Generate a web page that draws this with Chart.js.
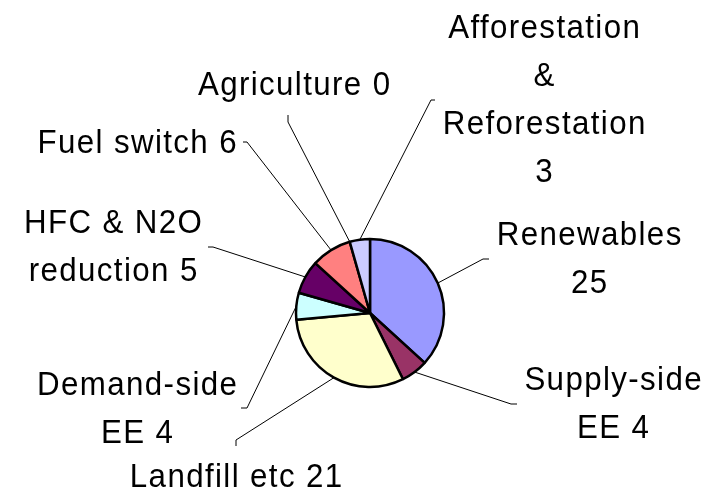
<!DOCTYPE html>
<html>
<head>
<meta charset="utf-8">
<script src="https://cdn.jsdelivr.net/npm/chart.js@4"></script>
<style>
  html, body { margin: 0; padding: 0; background: #fff; }
  #wrap { width: 715px; height: 491px; }
</style>
</head>
<body>
<div id="wrap"><canvas id="pie" width="715" height="491"></canvas></div>
<script>
// data
const categories = ["Renewables", "Supply-side EE", "Landfill etc", "Demand-side EE",
    "HFC & N2O reduction", "Fuel switch", "Agriculture", "Afforestation & Reforestation"];
const values = [25, 4, 21, 4, 5, 6, 0, 3];
const colors = ["#9999FF", "#993366", "#FFFFCC", "#CCFFFF", "#660066", "#FF8080", "#0066CC", "#CCCCFF"];

// label placement: centre x, first baseline, word indexes that start a new line,
// elbow of the leader line and the short tick after it
const labelLayout = [
    { x: 589, y: 245, breaks: [1], elbow: [483, 259], tick: [489, 259] },
    { x: 613, y: 390, breaks: [1], elbow: [511, 404], tick: [517, 404] },
    { x: 236, y: 487, breaks: [], elbow: [236, 440], tick: [236, 446] },
    { x: 137, y: 395, breaks: [1], elbow: [247, 408], tick: [241, 408] },
    { x: 113, y: 233, breaks: [3], elbow: [213, 247], tick: [208, 247] },
    { x: 137, y: 153, breaks: [], elbow: [247, 142], tick: [243, 142] },
    { x: 294, y: 95, breaks: [], elbow: [288, 122], tick: [288, 115] },
    { x: 544, y: 38, breaks: [1, 2, 3], elbow: [431, 100], tick: [435, 100] }
];
const lineHeight = 48;
const squeeze = 0.92;   // text looks a little narrow
const tracking = 1.5;

function labelLines(i) {
    const words = `${categories[i]} ${values[i]}`.split(" ");
    const lines = [];
    let cur = [];
    words.forEach((w, k) => {
        if (labelLayout[i].breaks.includes(k) && cur.length) { lines.push(cur.join(" ")); cur = []; }
        cur.push(w);
    });
    lines.push(cur.join(" "));
    return lines;
}

// leader lines + labels
const pieLabels = {
    id: "pieLabels",
    afterDatasetsDraw(chart) {
        const ctx = chart.ctx;
        const arcs = chart.getDatasetMeta(0).data;
        arcs.forEach((arc, i) => {
            const p = arc.getProps(["x", "y", "startAngle", "endAngle", "outerRadius"], true);
            const mid = (p.startAngle + p.endAngle) / 2;
            const sx = p.x + Math.cos(mid) * p.outerRadius;
            const sy = p.y + Math.sin(mid) * p.outerRadius;
            const lay = labelLayout[i];
            ctx.save();
            ctx.strokeStyle = "#000";
            ctx.lineWidth = 1;
            ctx.beginPath();
            ctx.moveTo(sx, sy);
            ctx.lineTo(lay.elbow[0], lay.elbow[1]);
            ctx.lineTo(lay.tick[0], lay.tick[1]);
            ctx.stroke();

            ctx.scale(squeeze, 1);
            ctx.fillStyle = "#000";
            ctx.font = "34px 'Liberation Sans', Arial, sans-serif";
            ctx.letterSpacing = tracking + "px";
            ctx.textAlign = "center";
            ctx.textBaseline = "alphabetic";
            labelLines(i).forEach((t, k) =>
                ctx.fillText(t, lay.x / squeeze + tracking / 2, lay.y + k * lineHeight));
            ctx.restore();
        });
    }
};

new Chart(document.getElementById("pie"), {
    type: "pie",
    data: {
        labels: categories,
        datasets: [{
            data: values,
            backgroundColor: colors,
            borderColor: "#000",
            borderWidth: 2.5,
            radius: 74
        }]
    },
    options: {
        responsive: false,
        animation: false,
        events: [],
        layout: { padding: { left: 25, right: 0, top: 135, bottom: 0 } },
        plugins: { legend: { display: false }, tooltip: { enabled: false } }
    },
    plugins: [pieLabels]
});
</script>
</body>
</html>
